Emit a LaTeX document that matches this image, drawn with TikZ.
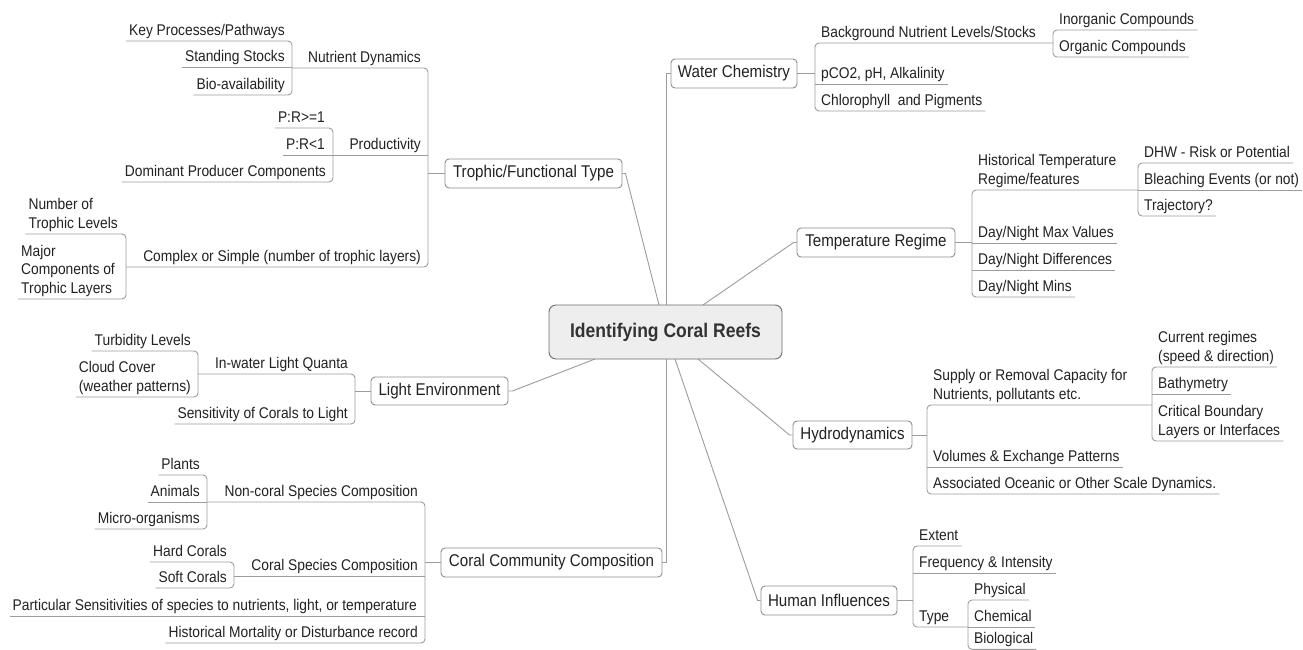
\documentclass[tikz,border=0pt]{standalone}
\usepackage{fontspec}
\setmainfont{Liberation Sans}[FakeStretch=0.89]
\usetikzlibrary{calc}
\definecolor{txt}{HTML}{222222}
\definecolor{lc}{HTML}{9C9C9C}
\definecolor{bc}{HTML}{8E8E8E}
\definecolor{rootfill}{HTML}{EEEEEE}
\definecolor{rootdraw}{HTML}{6E6E6E}
\definecolor{roottxt}{HTML}{333333}
\newcommand\leaffont{\fontsize{15.5}{18.5}\selectfont}
\newcommand\topicfont{\fontsize{17}{20}\selectfont}
\newcommand\rootfont{\fontsize{19.7}{22}\selectfont\bfseries}
\begin{document}
\begin{tikzpicture}[x=1pt,y=-1pt,
  lf/.style={font=\leaffont, text=txt, inner xsep=3pt, inner ysep=2pt, text depth=3.4pt, align=left},
  lfl/.style={lf, anchor=south east},
  lfr/.style={lf, anchor=south west},
  topic/.style={draw=bc, line width=0.9pt, rounded corners=4pt, fill=white, font=\topicfont, text=txt, inner sep=0pt, minimum height=29pt},
  rootst/.style={draw=rootdraw, line width=0.9pt, fill=rootfill, rounded corners=7pt, font=\rootfont, text=roottxt, inner sep=0pt, minimum width=233pt, minimum height=54pt},
  cn/.style={draw=lc, line width=0.9pt},
  br/.style={draw=lc, line width=0.9pt, rounded corners=4pt}]
\useasboundingbox (0,0) rectangle (1303,650);
\fill[white] (0,0) rectangle (1303,650);
\clip (0,0) rectangle (1303,650);

% bracket positions
\coordinate (bTF) at (428,0);
\coordinate (bND) at (292,0);
\coordinate (bPR) at (333,0);
\coordinate (bCS) at (126,0);
\coordinate (bLI) at (355,0);
\coordinate (bIW) at (198,0);
\coordinate (bCC) at (425,0);
\coordinate (bNC) at (207,0);
\coordinate (bCT) at (234,0);
\coordinate (bWC) at (815,0);
\coordinate (bBN) at (1053,0);
\coordinate (bTR) at (972,0);
\coordinate (bHT) at (1138,0);
\coordinate (bHY) at (927,0);
\coordinate (bSU) at (1152,0);
\coordinate (bHU) at (913,0);
\coordinate (bTY) at (968,0);

% topics
\node[topic, minimum width=177pt] (tft) at (533.5,173.5) {Trophic/Functional Type};
\node[topic, minimum width=137pt, minimum height=28pt] (le) at (439.5,391) {Light Environment};
\node[topic, minimum width=221pt] (ccc) at (551.5,562.5) {Coral Community Composition};
\node[topic, minimum width=126pt] (wc) at (734,73.5) {Water Chemistry};
\node[topic, minimum width=158pt] (tr) at (876,242.5) {Temperature Regime};
\node[topic, minimum width=119pt, minimum height=28pt] (hy) at (852.5,435) {Hydrodynamics};
\node[topic, minimum width=136pt] (hu) at (829,600.5) {Human Influences};

% root connectors
\coordinate (rT) at (659,305);
\coordinate (rW) at (666,305);
\coordinate (rTe) at (703,305);
\coordinate (rL) at (595,359);
\coordinate (rC) at (666,359);
\coordinate (rHu) at (675,359);
\coordinate (rHy) at (698,359);
\draw[cn] (rT) -- ($(tft.east)+(3,0)$) -- (tft.east);
\draw[cn] (rW) |- (wc.west);
\draw[cn] (rTe) -- ($(tr.west)+(-3,0)$) -- (tr.west);
\draw[cn] (rL) -- ($(le.east)+(4,0)$) -- (le.east);
\draw[cn] (rC) |- (ccc.east);
\draw[cn] (rHu) -- ($(hu.west)+(-3,0)$) -- (hu.west);
\draw[cn] (rHy) -- ($(hy.west)+(-3,0)$) -- (hy.west);
\node[rootst] (root) at (665.5,332) {Identifying Coral Reefs};

% ---------- Trophic / Functional Type ----------
\node[lfl] (nd) at (424,68) {Nutrient Dynamics};
\node[lfl] (prod) at (424,155) {Productivity};
\node[lfl] (cs) at (424,267) {Complex or Simple (number of trophic layers)};
\node[lfl] (kp) at (288,41) {Key Processes/Pathways};
\node[lfl] (ss) at (288,67) {Standing Stocks};
\node[lfl] (ba) at (288,95) {Bio-availability};
\node[lfl] (pr1) at (328,128) {P:R>=1};
\node[lfl] (pr2) at (328,155) {P:R<1};
\node[lfl] (dpc) at (329,182) {Dominant Producer Components};
\node[lfl] (ntl) at (121,234) {Number of\\Trophic Levels};
\node[lfl] (mct) at (118,299) {Major\\Components of\\Trophic Layers};
\draw[br] (kp.south west) -- (kp.south -| bND) -- (ba.south -| bND) -- (ba.south west);
\draw[br] (ss.south west) -- (ss.south -| bND);
\draw[br] (pr1.south west) -- (pr1.south -| bPR) -- (dpc.south -| bPR) -- (dpc.south west);
\draw[br] (pr2.south west) -- (pr2.south -| bPR);
\draw[br] (ntl.south west) -- (ntl.south -| bCS) -- (mct.south -| bCS) -- (mct.south west);
\draw[br] (nd.south -| bND) -- (nd.south -| bTF) -- (cs.south -| bTF) -- (cs.south -| bCS);
\draw[br] (prod.south -| bPR) -- (prod.south -| bTF);
\draw[cn] (tft.west) -- (tft.west -| bTF);

% ---------- Light Environment ----------
\node[lfl] (iwl) at (351,374) {In-water Light Quanta};
\node[lfl] (sen) at (351,424) {Sensitivity of Corals to Light};
\node[lfl] (tur) at (194,351) {Turbidity Levels};
\node[lfl] (cc) at (194,397) {Cloud Cover\\(weather patterns)};
\draw[br] (tur.south west) -- (tur.south -| bIW) -- (cc.south -| bIW) -- (cc.south west);
\draw[br] (iwl.south -| bIW) -- (iwl.south -| bLI) -- (sen.south -| bLI) -- (sen.south west);
\draw[cn] (le.west) -- (le.west -| bLI);

% ---------- Coral Community Composition ----------
\node[lfl] (ncs) at (421,502) {Non-coral Species Composition};
\node[lfl] (csc) at (421,576) {Coral Species Composition};
\node[lfl] (par) at (420,616) {Particular Sensitivities of species to nutrients, light, or temperature};
\node[lfl] (hist) at (421,643) {Historical Mortality or Disturbance record};
\node[lfl] (pla) at (203,475) {Plants};
\node[lfl] (ani) at (203,502) {Animals};
\node[lfl] (mic) at (203,529) {Micro-organisms};
\node[lfl] (hard) at (230,562) {Hard Corals};
\node[lfl] (soft) at (230,588) {Soft Corals};
\draw[br] (pla.south west) -- (pla.south -| bNC) -- (mic.south -| bNC) -- (mic.south west);
\draw[br] (ani.south west) -- (ani.south -| bNC);
\draw[br] (hard.south west) -- (hard.south -| bCT) -- (soft.south -| bCT) -- (soft.south west);
\draw[br] (ncs.south -| bNC) -- (ncs.south -| bCC) -- (hist.south -| bCC) -- (hist.south west);
\draw[br] (csc.south -| bCT) -- (csc.south -| bCC);
\draw[br] (par.south west) -- (par.south -| bCC);
\draw[cn] (ccc.west) -- (ccc.west -| bCC);

% ---------- Water Chemistry ----------
\node[lfr] (bn) at (818,43) {Background Nutrient Levels/Stocks};
\node[lfr] (pco) at (818,84) {pCO2, pH, Alkalinity};
\node[lfr] (chl) at (818,111) {Chlorophyll\ \ and Pigments};
\node[lfr] (ino) at (1056,30) {Inorganic Compounds};
\node[lfr] (org) at (1056,57) {Organic Compounds};
\draw[br] (bn.south -| bBN) -- (bn.south -| bWC) -- (chl.south -| bWC) -- (chl.south east);
\draw[br] (pco.south -| bWC) -- (pco.south east);
\draw[br] (ino.south east) -- (ino.south -| bBN) -- (org.south -| bBN) -- (org.south east);
\draw[cn] (wc.east) -- (wc.east -| bWC);

% ---------- Temperature Regime ----------
\node[lfr] (ht) at (975,190) {Historical Temperature\\Regime/features};
\node[lfr] (dnmax) at (975,243) {Day/Night Max Values};
\node[lfr] (dndiff) at (975,270) {Day/Night Differences};
\node[lfr] (dnmin) at (975,297) {Day/Night Mins};
\node[lfr] (dhw) at (1141,163) {DHW - Risk or Potential};
\node[lfr] (ble) at (1141,190) {Bleaching Events (or not)};
\node[lfr] (traj) at (1141,216) {Trajectory?};
\draw[br] (ht.south -| bHT) -- (ht.south -| bTR) -- (dnmin.south -| bTR) -- (dnmin.south east);
\draw[br] (dnmax.south -| bTR) -- (dnmax.south east);
\draw[br] (dndiff.south -| bTR) -- (dndiff.south east);
\draw[br] (dhw.south east) -- (dhw.south -| bHT) -- (traj.south -| bHT) -- (traj.south east);
\draw[br] (ble.south -| bHT) -- (ble.south east);
\draw[cn] (tr.east) -- (tr.east -| bTR);

% ---------- Hydrodynamics ----------
\node[lfr] (sup) at (930,405) {Supply or Removal Capacity for\\Nutrients, pollutants etc.};
\node[lfr] (vol) at (930,467) {Volumes \& Exchange Patterns};
\node[lfr] (aso) at (930,494) {Associated Oceanic or Other Scale Dynamics.};
\node[lfr] (cur) at (1155,367) {Current regimes\\(speed \& direction)};
\node[lfr] (bat) at (1155,394) {Bathymetry};
\node[lfr] (crit) at (1155,441) {Critical Boundary\\Layers or Interfaces};
\draw[br] (sup.south -| bSU) -- (sup.south -| bHY) -- (aso.south -| bHY) -- (aso.south east);
\draw[br] (vol.south -| bHY) -- (vol.south east);
\draw[br] (cur.south east) -- (cur.south -| bSU) -- (crit.south -| bSU) -- (crit.south east);
\draw[br] (bat.south -| bSU) -- (bat.south east);
\draw[cn] (hy.east) -- (hy.east -| bHY);

% ---------- Human Influences ----------
\node[lfr] (ext) at (916,546) {Extent};
\node[lfr] (fre) at (916,573) {Frequency \& Intensity};
\node[lfr] (typ) at (916,627) {Type};
\node[lfr] (phy) at (971,600) {Physical};
\node[lfr] (che) at (971,627) {Chemical};
\node[lfr] (bio) at (971,649.3) {Biological};
\draw[br] (ext.south east) -- (ext.south -| bHU) -- (typ.south -| bHU) -- (typ.south -| bTY);
\draw[br] (fre.south -| bHU) -- (fre.south east);
\draw[br] (phy.south east) -- (phy.south -| bTY) -- (bio.south -| bTY) -- (bio.south east);
\draw[br] (che.south -| bTY) -- (che.south east);
\draw[cn] (hu.east) -- (hu.east -| bHU);
\end{tikzpicture}
\end{document}
